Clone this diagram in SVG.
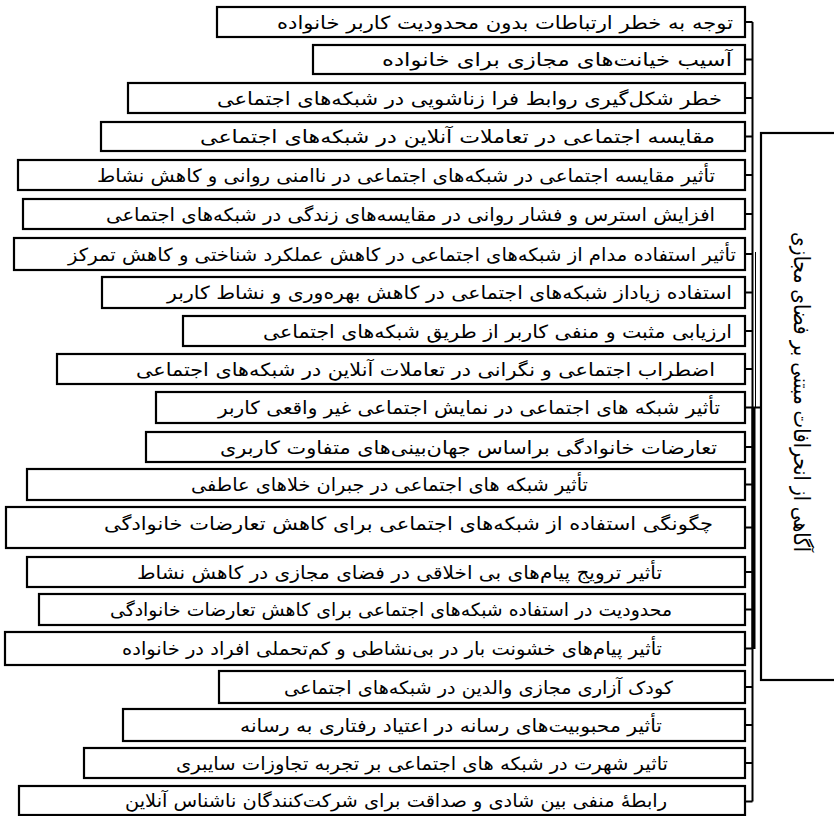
<svg xmlns="http://www.w3.org/2000/svg" width="834" height="816" viewBox="0 0 834 816">
<style>
.box{fill:#fff;stroke:#000;stroke-width:2.2}
.t{font-family:"DejaVu Sans",sans-serif;font-size:18px;text-anchor:middle;fill:#000}
.big{font-family:"DejaVu Sans",sans-serif;font-size:22px;text-anchor:middle;fill:#000}
.c{fill:none;stroke:#000;stroke-width:2}
</style>
<rect width="834" height="816" fill="#fff"/>
<g id="connectors">
<path class="c" d="M752.5,22V801.5M745,22H752.5M745,59.5H752.5M745,98H752.5M745,136.5H752.5M745,175H752.5M745,214H752.5M745,254H752.5M745,292.5H752.5M745,331H752.5M745,369H752.5M745,407.5H761M745,447H752.5M745,484.5H752.5M745,527.5H752.5M745,572H752.5M745,609.5H752.5M745,648.5H752.5M745,687H752.5M745,725H752.5M745,763H752.5M745,801.5H752.5"/>
<path d="M755.5,252V407.5" fill="none" stroke="#000" stroke-width="1"/>
<path d="M753.5,407.5V649" fill="none" stroke="#000" stroke-width="4"/>
</g>
<g id="n1"><rect class="box" x="217" y="7" width="528" height="30"/><text class="t" x="505" y="28.5" textLength="456" lengthAdjust="spacingAndGlyphs">توجه به خطر ارتباطات بدون محدودیت کاربر خانواده</text></g>
<g id="n2"><rect class="box" x="313" y="45" width="432" height="29"/><text class="t" x="557" y="66" textLength="350" lengthAdjust="spacingAndGlyphs">آسیب خیانت‌های مجازی برای خانواده</text></g>
<g id="n3"><rect class="box" x="128" y="83" width="617" height="30"/><text class="t" x="469.5" y="104.5" textLength="505" lengthAdjust="spacingAndGlyphs">خطر شکل‌گیری روابط فرا زناشویی در شبکه‌های اجتماعی</text></g>
<g id="n4"><rect class="box" x="101" y="122" width="644" height="29"/><text class="t" x="457.5" y="143" textLength="515" lengthAdjust="spacingAndGlyphs">مقایسه اجتماعی در تعاملات آنلاین در شبکه‌های اجتماعی</text></g>
<g id="n5"><rect class="box" x="18" y="160" width="727" height="30"/><text class="t" x="406" y="181.5" textLength="618" lengthAdjust="spacingAndGlyphs">تأثیر مقایسه اجتماعی در شبکه‌های اجتماعی در ناامنی روانی و کاهش نشاط</text></g>
<g id="n6"><rect class="box" x="23" y="199" width="722" height="30"/><text class="t" x="410.5" y="220.5" textLength="609" lengthAdjust="spacingAndGlyphs">افزایش استرس و فشار روانی در مقایسه‌های زندگی در شبکه‌های اجتماعی</text></g>
<g id="n7"><rect class="box" x="14" y="238" width="731" height="32"/><text class="t" x="402" y="260.5" textLength="668" lengthAdjust="spacingAndGlyphs">تأثیر استفاده مدام از شبکه‌های اجتماعی در کاهش عملکرد شناختی و کاهش تمرکز</text></g>
<g id="n8"><rect class="box" x="102" y="277" width="643" height="31"/><text class="t" x="449.5" y="299" textLength="565" lengthAdjust="spacingAndGlyphs">استفاده زیاداز شبکه‌های اجتماعی در کاهش بهره‌وری و نشاط کاربر</text></g>
<g id="n9"><rect class="box" x="183" y="316" width="562" height="30"/><text class="t" x="497.5" y="337.5" textLength="469" lengthAdjust="spacingAndGlyphs">ارزیابی مثبت و منفی کاربر از طریق شبکه‌های اجتماعی</text></g>
<g id="n10"><rect class="box" x="57" y="354" width="688" height="30"/><text class="t" x="425.5" y="375.5" textLength="579" lengthAdjust="spacingAndGlyphs">اضطراب اجتماعی و نگرانی در تعاملات آنلاین در شبکه‌های اجتماعی</text></g>
<g id="n11"><rect class="box" x="156" y="392" width="589" height="31"/><text class="t" x="469" y="414" textLength="502" lengthAdjust="spacingAndGlyphs">تأثیر شبکه های اجتماعی در نمایش اجتماعی غیر واقعی کاربر</text></g>
<g id="n12"><rect class="box" x="146" y="432" width="599" height="30"/><text class="t" x="468.5" y="453.5" textLength="497" lengthAdjust="spacingAndGlyphs">تعارضات خانوادگی براساس جهان‌بینی‌های متفاوت کاربری</text></g>
<g id="n13"><rect class="box" x="27" y="469" width="718" height="31"/><text class="t" x="389.5" y="491" textLength="397" lengthAdjust="spacingAndGlyphs">تأثیر شبکه های اجتماعی در جبران خلاهای عاطفی</text></g>
<g id="n14"><rect class="box" x="6" y="507" width="739" height="41"/><text class="t" x="408.5" y="529.5" textLength="609" lengthAdjust="spacingAndGlyphs">چگونگی استفاده از شبکه‌های اجتماعی برای کاهش تعارضات خانوادگی</text></g>
<g id="n15"><rect class="box" x="27" y="557" width="718" height="30"/><text class="t" x="399.5" y="578.5" textLength="525" lengthAdjust="spacingAndGlyphs">تأثیر ترویج پیام‌های بی اخلاقی در فضای مجازی در کاهش نشاط</text></g>
<g id="n16"><rect class="box" x="39" y="594" width="706" height="31"/><text class="t" x="391" y="616" textLength="562" lengthAdjust="spacingAndGlyphs">محدودیت در استفاده شبکه‌های اجتماعی برای کاهش تعارضات خانوادگی</text></g>
<g id="n17"><rect class="box" x="5" y="632" width="740" height="33"/><text class="t" x="392" y="654.5" textLength="540" lengthAdjust="spacingAndGlyphs">تأثیر پیام‌های خشونت بار در بی‌نشاطی و کم‌تحملی افراد در خانواده</text></g>
<g id="n18"><rect class="box" x="219" y="671" width="526" height="32"/><text class="t" x="478.5" y="693.5" textLength="389" lengthAdjust="spacingAndGlyphs">کودک آزاری مجازی والدین در شبکه‌های اجتماعی</text></g>
<g id="n19"><rect class="box" x="123" y="709" width="622" height="32"/><text class="t" x="451" y="731.5" textLength="422" lengthAdjust="spacingAndGlyphs">تأثیر محبوبیت‌های رسانه در اعتیاد رفتاری به رسانه</text></g>
<g id="n20"><rect class="box" x="84" y="748" width="661" height="30"/><text class="t" x="422" y="769.5" textLength="492" lengthAdjust="spacingAndGlyphs">تاثیر شهرت در شبکه های اجتماعی بر تجربه تجاوزات سایبری</text></g>
<g id="n21"><rect class="box" x="19" y="786" width="726" height="29"/><text class="t" x="396" y="807" textLength="542" lengthAdjust="spacingAndGlyphs">رابطهٔ منفی بین شادی و صداقت برای شرکت‌کنندگان ناشناس آنلاین</text></g>
<g id="main"><rect class="box" x="761" y="133" width="80" height="547"/><text class="big" transform="translate(794,392) rotate(90)" x="0" y="0" textLength="320" lengthAdjust="spacingAndGlyphs">آگاهی از انحرافات مبتنی بر فضای مجازی</text></g>
</svg>
